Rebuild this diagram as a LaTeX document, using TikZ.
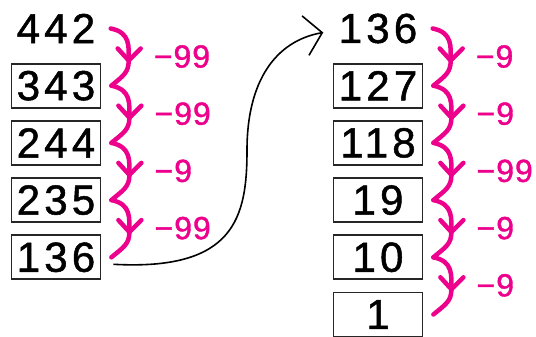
\documentclass[tikz,border=0pt]{standalone}
\usepackage{fontspec}
\setmainfont{Liberation Sans}
\newfontfamily\numfont[LetterSpace=10,FakeBold=1.2]{Liberation Sans}
\newfontfamily\difffont[LetterSpace=3,FakeBold=1.2]{Liberation Sans}
\usepackage{tikz}
\usetikzlibrary{arrows.meta}
\definecolor{hotpink}{RGB}{236,0,140}
\tikzstyle{num} = [minimum width=89pt, minimum height=44pt, inner sep=0pt, font=\numfont\fontsize{42}{42}\selectfont]
\tikzstyle{numbox} = [num, draw=black!85, line width=1.8pt]
\tikzstyle{wiggle} = [hotpink, line width=4.5pt, line cap=round, line join=round]
\tikzstyle{diff} = [hotpink, anchor=west, inner sep=0pt, font=\difffont\fontsize{32}{32}\selectfont]
\tikzstyle{link} = [line width=1.6pt, -{Straight Barb[length=17pt,width=40pt]}]

\begin{document}
\begin{tikzpicture}[x=1pt, y=1pt, node distance=57.2pt]
\useasboundingbox (0,0) rectangle (536,337);
% left column
\node[num] (l0) at (56,308.5) {442};
\node[numbox] (l1) [below of=l0] {343};
\node[numbox] (l2) [below of=l1] {244};
\node[numbox] (l3) [below of=l2] {235};
\node[numbox] (l4) [below of=l3] {136};
% right column
\node[num] (r0) at (378,308.5) {136};
\node[numbox] (r1) [below of=r0] {127};
\node[numbox] (r2) [below of=r1] {118};
\node[numbox] (r3) [below of=r2] {19};
\node[numbox] (r4) [below of=r3] {10};
\node[numbox] (r5) [below of=r4] {1};

% the subtraction steps
\foreach \a/\b/\d in {l0/l1/99, l1/l2/99, l2/l3/9, l3/l4/99, r0/r1/9, r1/r2/9, r2/r3/99, r3/r4/9, r4/r5/9} {
  \coordinate (\b-tip) at ([xshift=28pt,yshift=-32pt]\a.east);
  \draw[wiggle] ([xshift=10pt]\a.east) .. controls +(20,-4) and +(0,14) .. (\b-tip)
    .. controls +(0,-12) and +(12,10) .. ([xshift=10pt]\b.east);
  \draw[wiggle] ([shift={(-11,12)}]\b-tip) -- (\b-tip) -- ([shift={(12,12)}]\b-tip);
  \node[diff] (\b-d) at ([xshift=25pt,yshift=4pt]\b-tip) {−\d};
}

\draw[link] ([xshift=12pt,yshift=-7pt]l4.east) .. controls (235,66) and (247,120) .. (247,187)
  .. controls (247,255) and (275,296) .. ([xshift=-10pt,yshift=-4pt]r0.west);
\end{tikzpicture}
\end{document}
